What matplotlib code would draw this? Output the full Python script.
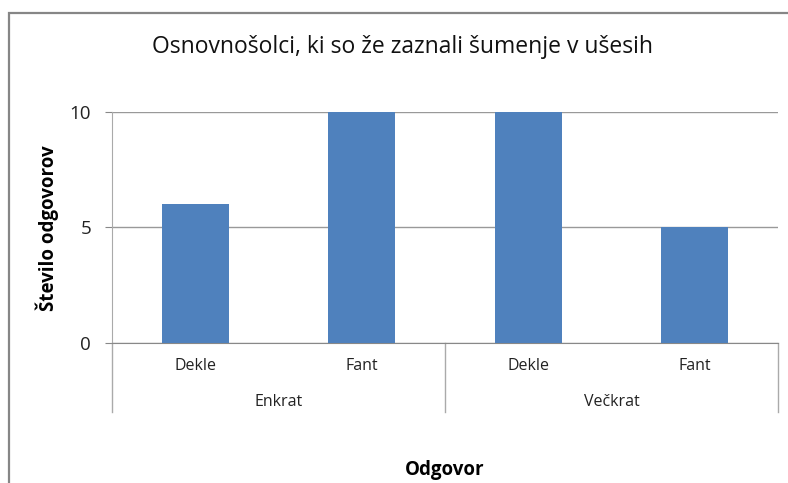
import matplotlib.pyplot as plt
from matplotlib.patches import Rectangle

plt.rcParams['font.family'] = ['Open Sans', 'DejaVu Sans']

# data
groups = ['Enkrat', 'Večkrat']
subcats = ['Dekle', 'Fant', 'Dekle', 'Fant']
values = [6, 10, 10, 5]

W, H = 788, 483
fig = plt.figure(figsize=(W / 100, H / 100), dpi=100)

# outer chart border (left and top visible)
fig.patches.append(Rectangle((9 / W, -0.1), 1.2, (H - 13) / H + 0.1, transform=fig.transFigure,
                             fill=False, edgecolor='#868686', linewidth=1.6))

ax = fig.add_axes([112 / W, (H - 343) / H, 666 / W, 231 / H])
x = list(range(len(values)))
ax.bar(x, values, width=0.4, color='#4F81BD', zorder=3)

ax.set_xlim(-0.5, 3.5)
ax.set_ylim(0, 10)
ax.set_yticks([0, 5, 10])
ax.tick_params(axis='y', length=5, color='#888888', labelsize=13.5, pad=10, labelcolor='#222222')
ax.tick_params(axis='x', length=0)
ax.set_xticks([])
ax.grid(axis='y', color='#999999', linewidth=1, zorder=0)

for s in ['top', 'right']:
    ax.spines[s].set_visible(False)
ax.spines['left'].set_color('#aaaaaa')
ax.spines['bottom'].set_color('#888888')

# two-level category axis
trans = ax.get_xaxis_transform()
for xs in [-0.5, 1.5, 3.5]:
    ax.plot([xs, xs], [0, -0.3], transform=trans, color='#aaaaaa', lw=1, clip_on=False)
for i, lab in enumerate(subcats):
    ax.text(i, -0.1, lab, transform=trans, ha='center', va='center', fontsize=11.5, color='#222222')
for j, g in enumerate(groups):
    ax.text(2 * j + 0.5, -0.255, g, transform=trans, ha='center', va='center', fontsize=11.5, color='#222222')

fig.text(403 / W, 1 - 47 / H, 'Osnovnošolci, ki so že zaznali šumenje v ušesih',
         ha='center', va='center', fontsize=16.5, color='#111111')
fig.text(47 / W, 1 - 228 / H, 'Število odgovorov', rotation=90, ha='center', va='center',
         fontsize=13.5, fontweight='bold')
fig.text(445 / W, 1 - 470 / H, 'Odgovor', ha='center', va='center', fontsize=13.5, fontweight='bold')

fig.savefig('out.png', dpi=100)
